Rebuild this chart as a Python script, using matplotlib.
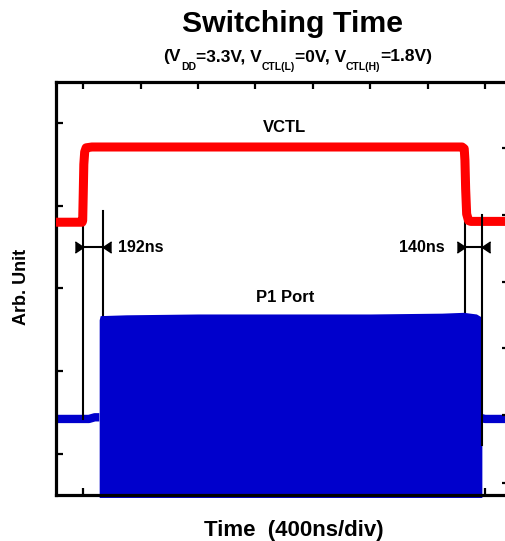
import numpy as np
import matplotlib
matplotlib.use('Agg')
import matplotlib.pyplot as plt

plt.rcParams['font.family'] = ['Liberation Sans', 'DejaVu Sans']
plt.rcParams['font.weight'] = 'bold'

# time in ns, levels in arbitrary units
vctl_t = [-192, -8, -4, 0, 4, 10, 20, 60, 1400, 2640, 2655, 2660, 2665, 2672, 2685, 2700, 2965]
vctl_v = [3.30, 3.30, 3.32, 3.65, 4.00, 4.15, 4.20, 4.21, 4.21, 4.21, 4.19, 4.05, 3.70, 3.40, 3.32, 3.31, 3.31]

p1_base_left_t = [-192, 40, 80, 112]
p1_base_left_v = [0.92, 0.92, 0.94, 0.94]
p1_base_right_t = [2776, 2800, 2965]
p1_base_right_v = [0.93, 0.92, 0.92]

burst_t = [111, 118, 300, 800, 1400, 2000, 2500, 2650, 2740, 2778]
burst_top = [2.12, 2.17, 2.18, 2.19, 2.19, 2.19, 2.20, 2.21, 2.19, 2.15]
burst_bottom = -0.03

# timing markers: (x, y_top, y_bottom)
rise_lines = [(-4, 3.57, 0.92), (135, 3.43, 0.0)]
fall_lines = [(2660, 3.67, 0.0), (2776, 3.39, 0.60)]
arrow_y = 3.00
rise_label = '192ns'
fall_label = '140ns'

x_ticks = [0, 400, 800, 1200, 1600, 2000, 2400, 2800]
left_ticks = [0.5, 1.5, 2.5, 3.5, 4.5]
right_ticks = [0.15, 0.97, 1.78, 2.58, 3.39, 4.20]

# subtitle pieces: (text, is_subscript)
subtitle = [('(V', False), ('DD', True), ('=3.3V, V', False), ('CTL(L)', True),
            ('=0V, V', False), ('CTL(H)', True), ('=1.8V)', False)]

fig = plt.figure(figsize=(5.05, 5.41), dpi=100)
ax = fig.add_axes([55.7 / 505, 46 / 541, 453 / 505, 413.3 / 541])

red = '#ff0000'
blue = '#0000cc'

ax.fill_between(burst_t, burst_bottom, burst_top, color=blue, lw=0, zorder=2, clip_on=False)
ax.plot(p1_base_left_t, p1_base_left_v, color=blue, lw=6, solid_capstyle='butt', zorder=2)
ax.plot(p1_base_right_t, p1_base_right_v, color=blue, lw=6, solid_capstyle='butt', zorder=2)

# marker lines
ax.plot([rise_lines[0][0]] * 2, rise_lines[0][1:], color='black', lw=1.5, zorder=2.5)
ax.plot([rise_lines[1][0]] * 2, rise_lines[1][1:], color='black', lw=1.5, zorder=1)
ax.plot([fall_lines[0][0]] * 2, fall_lines[0][1:], color='black', lw=1.5, zorder=1)
ax.plot([fall_lines[1][0]] * 2, fall_lines[1][1:], color='black', lw=1.5, zorder=4)

ax.plot(vctl_t, vctl_v, color=red, lw=6.5, solid_joinstyle='round', zorder=3)

# arrows between the lines
tri_r = [(-0.75, -1), (0.75, 0), (-0.75, 1)]
tri_l = [(0.75, -1), (-0.75, 0), (0.75, 1)]
for (xa, xb) in [(rise_lines[0][0], rise_lines[1][0]), (fall_lines[0][0], fall_lines[1][0])]:
    ax.plot([xa, xb], [arrow_y, arrow_y], color='black', lw=1.5, zorder=4)
    ax.plot(xa - 28, arrow_y, marker=tri_r, ms=8, color='black', zorder=4)
    ax.plot(xb + 33, arrow_y, marker=tri_l, ms=8, color='black', zorder=4)

ax.text(240, arrow_y, rise_label, fontsize=11.5, fontweight='bold', ha='left', va='center')
ax.text(2520, arrow_y, fall_label, fontsize=11.5, fontweight='bold', ha='right', va='center')
ax.text(1405, 4.45, 'VCTL', fontsize=12, fontweight='bold', ha='center', va='center')
ax.text(1405, 2.39, 'P1 Port', fontsize=12, fontweight='bold', ha='center', va='center')

ax.set_xlim(-192, 2965)
ax.set_ylim(0, 5)
ax.set_xticks(x_ticks)
ax.set_yticks(left_ticks)
ax.tick_params(direction='in', length=5, width=1.6, top=True, labelbottom=False, labelleft=False)
for s in ax.spines.values():
    s.set_linewidth(2.3)

ax2 = ax.twinx()
ax2.set_ylim(0, 5)
ax2.set_yticks(right_ticks)
ax2.tick_params(direction='in', length=5, width=1.6, labelright=False)
for s in ax2.spines.values():
    s.set_visible(False)

fig.text(292 / 505, 1 - 24 / 541, 'Switching Time', fontsize=21.8, fontweight='bold', ha='center', va='center')

# subtitle built from pieces so subscripts sit low and small like the original
renderer = fig.canvas.get_renderer()
pieces = []
total = 0
for txt, sub in subtitle:
    t = fig.text(0, 0, txt, fontsize=7.5 if sub else 12.5, fontweight='bold', va='baseline')
    w = t.get_window_extent(renderer).width
    pieces.append((t, sub, w))
    total += w
x = 298 - total / 2
for t, sub, w in pieces:
    ypx = 70.5 if sub else 61.5
    t.set_position((x / 505, 1 - ypx / 541))
    x += w

fig.text(294 / 505, 1 - 536 / 541, 'Time  (400ns/div)', fontsize=16, fontweight='bold', ha='center', va='baseline')
fig.text(22 / 505, 1 - 287 / 541, 'Arb. Unit', fontsize=13, fontweight='bold', rotation=90, ha='center', va='center')

fig.savefig('out.png', dpi=100)
